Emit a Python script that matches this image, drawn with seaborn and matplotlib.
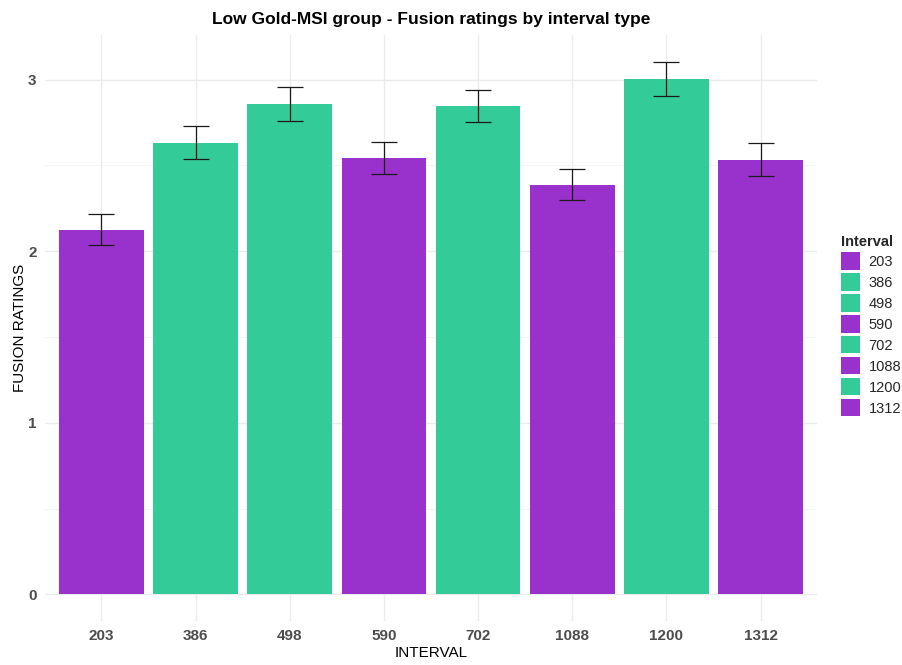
import matplotlib
matplotlib.use("Agg")
import matplotlib.pyplot as plt
from matplotlib.patches import Patch
from matplotlib.ticker import MultipleLocator
import seaborn as sns
import pandas as pd

# Mean fusion ratings and standard errors per interval (Low Gold-MSI group)
intervals = ["203", "386", "498", "590", "702", "1088", "1200", "1312"]
ratings = [2.126, 2.633, 2.860, 2.545, 2.848, 2.388, 3.005, 2.533]
errors = [0.090, 0.096, 0.100, 0.092, 0.093, 0.090, 0.100, 0.096]
groups = ["A", "B", "B", "A", "B", "A", "B", "A"]

purple = "#9932CC"
green = "#33CC99"
group_colors = {"A": purple, "B": green}

df = pd.DataFrame({"Interval": intervals, "Rating": ratings, "SE": errors, "Group": groups})
palette = {iv: group_colors[g] for iv, g in zip(intervals, groups)}

sns.set_theme(style="white")
plt.rcParams["font.family"] = ["Liberation Sans", "DejaVu Sans"]

fig = plt.figure(figsize=(9.02, 6.65), dpi=100)
W, H = 902, 665
ax = fig.add_axes([45 / W, (H - 621) / H, (817 - 45) / W, (621 - 35) / H])

sns.barplot(data=df, x="Interval", y="Rating", hue="Interval", palette=palette,
            order=intervals, hue_order=intervals, dodge=False, width=0.9,
            saturation=1, errorbar=None, legend=False, ax=ax, zorder=2,
            edgecolor="none")

ax.errorbar(x=range(len(intervals)), y=df["Rating"], yerr=df["SE"], fmt="none",
            ecolor="#1a1a1a", elinewidth=0.9, capsize=9.5, capthick=0.9, zorder=3)

ymax = max(r + e for r, e in zip(ratings, errors))
pad = 0.05 * ymax
ax.set_ylim(-pad, ymax + pad)
ax.set_xlim(-0.6, len(intervals) - 0.4)

ax.yaxis.set_major_locator(MultipleLocator(1))
ax.yaxis.set_minor_locator(MultipleLocator(0.5))
ax.grid(True, which="major", axis="both", color="#EBEBEB", linewidth=1.0, zorder=0)
ax.grid(True, which="minor", axis="y", color="#F2F2F2", linewidth=0.6, zorder=0)
ax.set_axisbelow(True)
for s in ax.spines.values():
    s.set_visible(False)
ax.tick_params(axis="both", which="both", length=0, pad=6)
for lbl in ax.get_xticklabels() + ax.get_yticklabels():
    lbl.set_fontweight("bold")
    lbl.set_color("#4D4D4D")
    lbl.set_fontsize(11)

ax.set_xlabel("INTERVAL", fontsize=11, color="black", labelpad=2)
ax.set_ylabel("FUSION RATINGS", fontsize=11, color="black", labelpad=1)
ax.set_title("Low Gold-MSI group - Fusion ratings by interval type",
             fontsize=12.5, fontweight="bold", color="black", pad=8)

handles = [Patch(facecolor=palette[iv], edgecolor="none", label=iv) for iv in intervals]
leg = fig.legend(handles=handles, title="Interval", loc="upper left",
                 bbox_to_anchor=(829 / W, 1 - 223 / H), frameon=False,
                 fontsize=10.5, title_fontsize=10.5, handlelength=1.35, handleheight=1.45,
                 handletextpad=0.55, labelspacing=0.25, alignment="left", borderpad=0.3)
leg.get_title().set_fontweight("bold")

fig.savefig("out.png", dpi=100)
